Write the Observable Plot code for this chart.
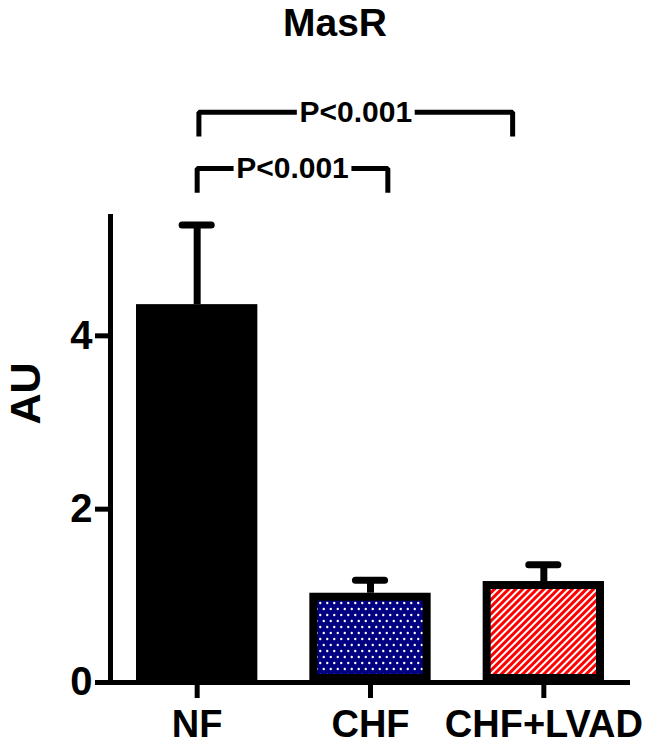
<!DOCTYPE html>
<html><head><meta charset="utf-8">
<script src="https://cdn.jsdelivr.net/npm/d3@7"></script>
<script src="https://cdn.jsdelivr.net/npm/@observablehq/plot@0.6"></script>
<style>
body{margin:0;background:#fff;font-family:"Liberation Sans",Arial,sans-serif;}
#title{height:42px;line-height:45px;font-size:39px;font-weight:bold;text-align:center;padding-left:14px;width:642px;color:#000;overflow:visible;}
#chart svg{display:block;}
</style></head><body>
<div id="title">MasR</div>
<div id="chart"></div>
<script>
// ---- data ----
const groups = ["NF", "CHF", "CHF+LVAD"];
const means  = [4.36, 1.03, 1.165];
const upper  = [5.28, 1.18, 1.36];      // mean + error
const yTicks = [0, 2, 4];
const comparisons = [
  {from: "NF", to: "CHF", label: "P<0.001"},
  {from: "NF", to: "CHF+LVAD", label: "P<0.001"}
];
// ---- styles ----
const fills = ["black", "url(#dots)", "url(#stripes)"];

const idx = g => groups.indexOf(g);
const rows = groups.map((g, i) => ({g, i, mean: means[i], upper: upper[i], fill: fills[i]}));

// bracket geometry (annotation layout)
const bracketShape = [{dx1: 0, dx2: 0.10, y: 5.93}, {dx1: 0.01, dx2: -0.18, y: 6.58}];
const bracketRows = comparisons.map((c, i) => ({
  ...c,
  x1: idx(c.from) + bracketShape[i].dx1,
  x2: idx(c.to) + bracketShape[i].dx2,
  y: bracketShape[i].y
}));
const halfText = 0.34, drop = 0.28;
const bracketPts = bracketRows.flatMap((b, i) => {
  const m = (b.x1 + b.x2) / 2;
  return [
    {k: i + "L", x: b.x1, y: b.y - drop}, {k: i + "L", x: b.x1, y: b.y}, {k: i + "L", x: m - halfText, y: b.y},
    {k: i + "R", x: m + halfText, y: b.y}, {k: i + "R", x: b.x2, y: b.y}, {k: i + "R", x: b.x2, y: b.y - drop}
  ];
});

const plot = Plot.plot({
  width: 656, height: 707,
  marginLeft: 110, marginRight: 26, marginTop: 172, marginBottom: 67,
  style: {fontFamily: '"Liberation Sans", Arial, sans-serif', fontWeight: "bold", color: "black", background: "white", overflow: "visible"},
  x: {type: "linear", domain: [-0.5, 2.5]},
  y: {domain: [0, 5.4]},
  color: {type: "identity"},
  marks: [
    Plot.ruleX(rows, {x: "i", y1: "mean", y2: "upper", stroke: "black", strokeWidth: 7}),
    Plot.ruleY(rows, {y: "upper", x1: d => d.i - 0.084, x2: d => d.i + 0.084, stroke: "black", strokeWidth: 7, strokeLinecap: "round"}),
    Plot.rectY(rows, {x1: d => d.i - 0.35, x2: d => d.i + 0.35, y1: d => 0, y2: "mean", fill: "fill", stroke: "black", strokeWidth: 8, inset: 4}),
    Plot.ruleX([-0.5], {stroke: "black", strokeWidth: 5}),
    Plot.ruleY([0], {stroke: "black", strokeWidth: 5}),
    Plot.axisY(yTicks, {tickSize: 15, tickPadding: 3, strokeWidth: 5, fontSize: 40, fontWeight: "bold", label: null, tickFormat: d => String(d)}),
    Plot.axisX([0, 1, 2], {tickSize: 16, tickPadding: 12, strokeWidth: 5, fontSize: 38, fontWeight: "bold", label: null, tickFormat: i => groups[i]}),
    Plot.text(["AU"], {frameAnchor: "left", rotate: -90, dx: -84, dy: -24, fontSize: 43, fontWeight: "bold"}),
    Plot.line(bracketPts, {x: "x", y: "y", z: "k", stroke: "black", strokeWidth: 5, strokeLinejoin: "miter", strokeLinecap: "butt"}),
    Plot.text(bracketRows, {x: d => (d.x1 + d.x2) / 2, y: "y", text: "label", fontSize: 30, fontWeight: "bold"})
  ]
});

const ns = "http://www.w3.org/2000/svg";
const defs = document.createElementNS(ns, "defs");
defs.innerHTML =
  '<pattern id="dots" patternUnits="userSpaceOnUse" width="7" height="12">' +
  '<rect width="7" height="12" fill="#000080"/>' +
  '<circle cx="1.75" cy="3" r="1.2" fill="white"/><circle cx="5.25" cy="9" r="1.2" fill="white"/></pattern>' +
  '<pattern id="stripes" patternUnits="userSpaceOnUse" width="5" height="5" patternTransform="rotate(45)">' +
  '<rect width="5" height="5" fill="white"/><rect width="3" height="5" fill="#ff0000"/></pattern>';
plot.insertBefore(defs, plot.firstChild);
document.getElementById("chart").appendChild(plot);
</script>
</body></html>
